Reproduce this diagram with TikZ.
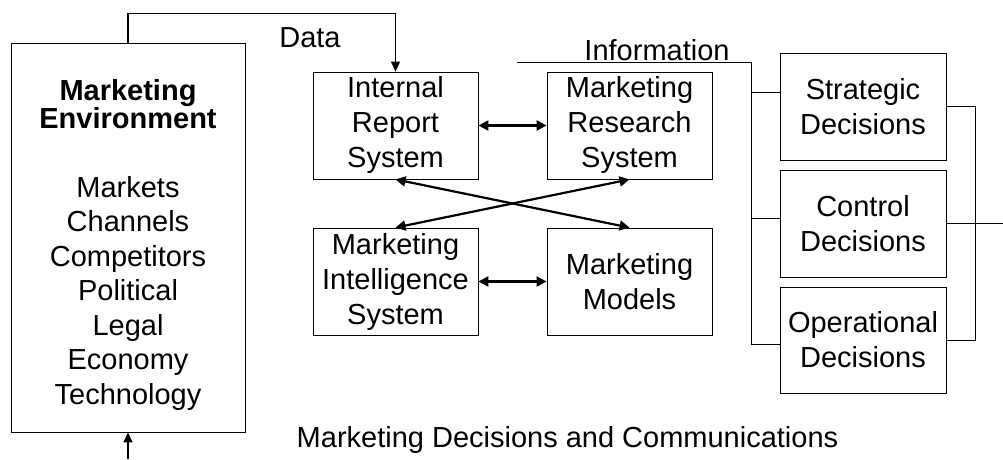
\documentclass[tikz,border=0pt]{standalone}
\usepackage{fontspec}
\setmainfont{Liberation Sans}
\usetikzlibrary{arrows.meta}

\begin{document}
\begin{tikzpicture}[x=1pt,y=1pt,
  box/.style={draw,line width=0.8pt,align=center,inner sep=0pt,minimum width=165pt,minimum height=107pt,font=\fontsize{29}{35}\selectfont},
  lbl/.style={inner sep=0pt,font=\fontsize{29}{34.5}\selectfont},
  link/.style={line width=2.2pt,{Triangle[length=10pt,width=10pt]}-{Triangle[length=10pt,width=10pt]}},
  wire/.style={line width=0.8pt}]
  \useasboundingbox (0,0) rectangle (1003,459);
  % environment
  \path (128,221.5) node[box,minimum width=234pt,minimum height=389pt] (env) {}
    (128,214) node[lbl,align=center] (envtxt) {\textbf{Marketing}\\[-6.5pt]\textbf{Environment}\\[34pt]Markets\\Channels\\Competitors\\Political\\Legal\\Economy\\Technology};
  % information systems
  \path (395.5,333.5) node[box] (irs) {Internal\\Report\\System}
    (629.5,333.5) node[box] (mrs) {Marketing\\Research\\System}
    (395.5,177.5) node[box] (mis) {Marketing\\Intelligence\\System}
    (629.5,177.5) node[box] (mm) {Marketing\\Models};
  % decisions
  \path (863,352.5) node[box,minimum width=166pt] (sd) {Strategic\\Decisions}
    (863,235.5) node[box,minimum width=166pt] (cd) {Control\\Decisions}
    (863,119) node[box,minimum width=166pt,minimum height=106pt] (od) {Operational\\Decisions};
  % labels
  \path (310,411) node[lbl,anchor=base] (data) {Data}
    (657,399) node[lbl,anchor=base] (info) {Information}
    (567.5,12) node[lbl,anchor=base] (mdc) {Marketing Decisions and Communications};
  \coordinate (feed) at (128,0);
  \coordinate (infostart) at (517,397);
  \coordinate (bus) at (751,397);
  \coordinate (out) at (1003,235.5);
  \draw[line width=1.2pt,-{Triangle[length=10pt,width=9pt]}] (env.north) -- ++(0,29) -| (irs.north);
  \draw[line width=1.6pt,-{Triangle[length=10pt,width=9pt]}] (feed) -- (env.south);
  \draw[link] (irs) -- (mrs);
  \draw[link] (mis) -- (mm);
  \draw[link] (irs.south) -- (mm.north);
  \draw[link] (mis.north) -- (mrs.south);
  \draw[wire] (infostart) -- (bus) |- ([yshift=-4pt]od.west);
  \draw[wire] ([yshift=14.5pt]sd.west) -- ++(-29,0);
  \draw[wire] ([yshift=5.5pt]cd.west) -- ++(-29,0);
  \draw[wire] (sd.east) -- ++(29,0) |- (od.east);
  \draw[line width=1.6pt] (cd.east) -- (out);
\end{tikzpicture}
\end{document}
